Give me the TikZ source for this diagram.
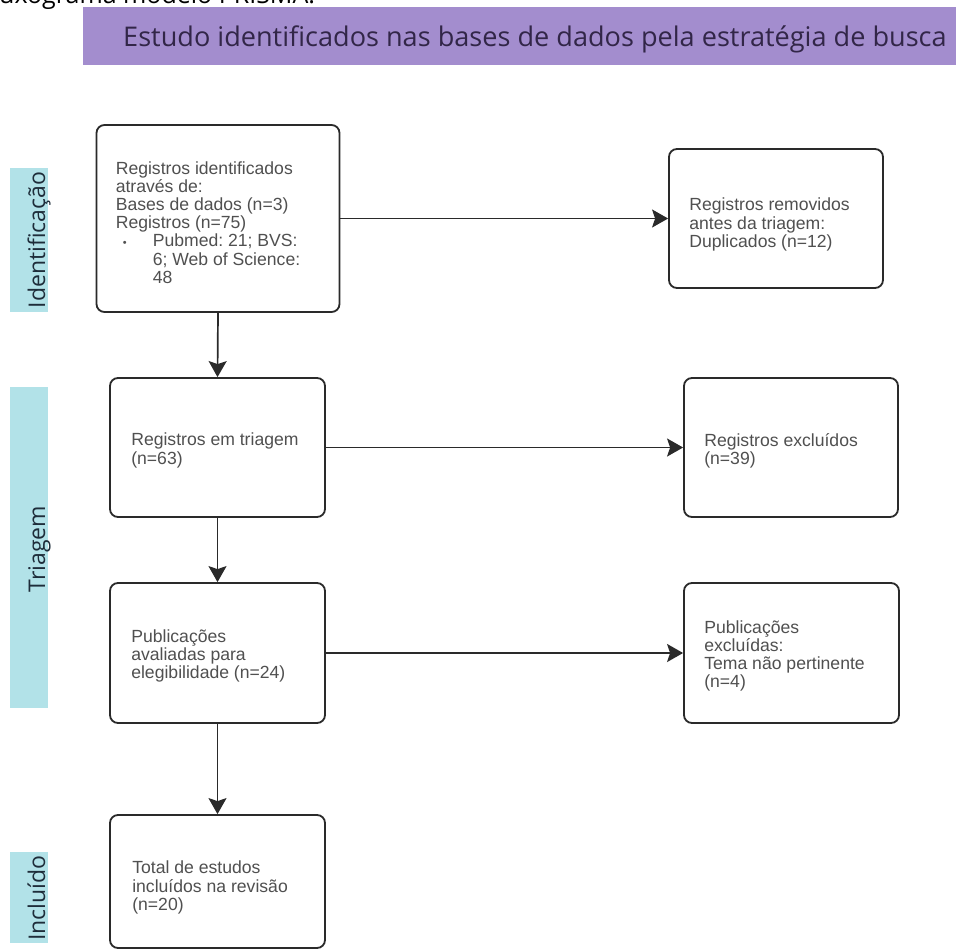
\documentclass[tikz,border=0pt]{standalone}
\usepackage{fontspec}
\setmainfont{Liberation Sans}
\newfontfamily\opensans{Open Sans}
\usetikzlibrary{arrows.meta}
\definecolor{hdrbg}{RGB}{163,141,206}
\definecolor{hdrtxt}{RGB}{50,38,72}
\definecolor{lblbg}{RGB}{178,226,232}
\definecolor{lbltxt}{RGB}{30,45,58}
\definecolor{boxtxt}{RGB}{80,80,80}
\definecolor{linec}{RGB}{42,42,42}
\tikzset{
  flowbox/.style={draw=linec, line width=1.8pt, rounded corners=8pt, fill=white,
    inner sep=0pt},
  boxtext/.style={anchor=west, inner sep=0pt, align=left, text=boxtxt,
    font=\frenchspacing\fontsize{17.6}{18.2}\selectfont},
  lbltext/.style={rotate=90, anchor=base, text=lbltxt, inner sep=0pt,
    font=\opensans\fontsize{23}{26}\selectfont},
  conn/.style={draw=linec, line width=1.7pt,
    -{Stealth[length=16pt,width=18pt,inset=3pt]}},
}
\begin{document}
\begin{tikzpicture}[x=1pt,y=-1pt]
\useasboundingbox (0,0) rectangle (956,951);
\clip (0,0) rectangle (956,951);
\fill[white] (0,0) rectangle (956,951);
% top partial caption
\node[anchor=base west, inner sep=0pt, font=\opensans\fontsize{25}{28}\selectfont, text=black] (cap) at (-1,3) {uxograma modelo PRISMA:};
% header
\fill[hdrbg] (83,7) rectangle (960,65);
\node[anchor=base west, inner sep=0pt, text=hdrtxt, font=\opensans\fontsize{27.1}{30}\selectfont] (hdr) at (123,46) {Estudo identificados nas bases de dados pela estratégia de busca};
% side labels
\fill[lblbg] (10,168) rectangle (48,312);
\node[lbltext] (lid) at (45,240) {Identificação};
\fill[lblbg] (10,387) rectangle (48,708);
\node[lbltext] (ltr) at (45,549) {Triagem};
\fill[lblbg] (10,852) rectangle (48,943);
\node[lbltext] (lin) at (45,898) {Incluído};
% boxes
\node[flowbox, minimum width=243pt, minimum height=187pt] (b1) at (218,218.5) {};
\node[flowbox, minimum width=214pt, minimum height=139pt] (b2) at (776,218.5) {};
\node[flowbox, minimum width=215pt, minimum height=139pt] (b3) at (217.5,447.5) {};
\node[flowbox, minimum width=214pt, minimum height=139pt] (b4) at (791,447.5) {};
\node[flowbox, minimum width=215pt, minimum height=140pt] (b5) at (217.5,653) {};
\node[flowbox, minimum width=215pt, minimum height=140pt] (b6) at (791.5,653) {};
\node[flowbox, minimum width=215pt, minimum height=133pt] (b7) at (217.5,881.5) {};
% box texts
\node[boxtext] (t1) at ([xshift=20pt,yshift=-4pt]b1.west) {Registros identificados\\através de:\\Bases de dados (n=3)\\Registros (n=75)\\\hspace*{7pt}\makebox[30pt][l]{\fontsize{11}{12}\selectfont\textbullet}\parbox[t]{160pt}{Pubmed: 21; BVS:\\6; Web of Science:\\48}};
\node[boxtext] (t2) at ([xshift=21pt,yshift=-6pt]b2.west) {Registros removidos\\antes da triagem:\\Duplicados (n=12)};
\node[boxtext] (t3) at ([xshift=22pt,yshift=-3pt]b3.west) {Registros em triagem\\(n=63)};
\node[boxtext] (t4) at ([xshift=21pt,yshift=-3pt]b4.west) {Registros excluídos\\(n=39)};
\node[boxtext] (t5) at ([xshift=22pt,yshift=-3pt]b5.west) {Publicações\\avaliadas para\\elegibilidade (n=24)};
\node[boxtext] (t6) at ([xshift=21pt,yshift=-3pt]b6.west) {Publicações\\excluídas:\\Tema não pertinente\\(n=4)};
\node[boxtext] (t7) at ([xshift=23pt,yshift=-6pt]b7.west) {Total de estudos\\incluídos na revisão\\(n=20)};
% connectors
\draw[conn] (b1.east) -- (b2.west);
\draw[conn] (b1.south) -- (b3.north);
\draw[conn] (b3.east) -- (b4.west);
\draw[conn] (b3.south) -- (b5.north);
\draw[conn] (b5.east) -- (b6.west);
\draw[conn] (b5.south) -- (b7.north);
\end{tikzpicture}
\end{document}
